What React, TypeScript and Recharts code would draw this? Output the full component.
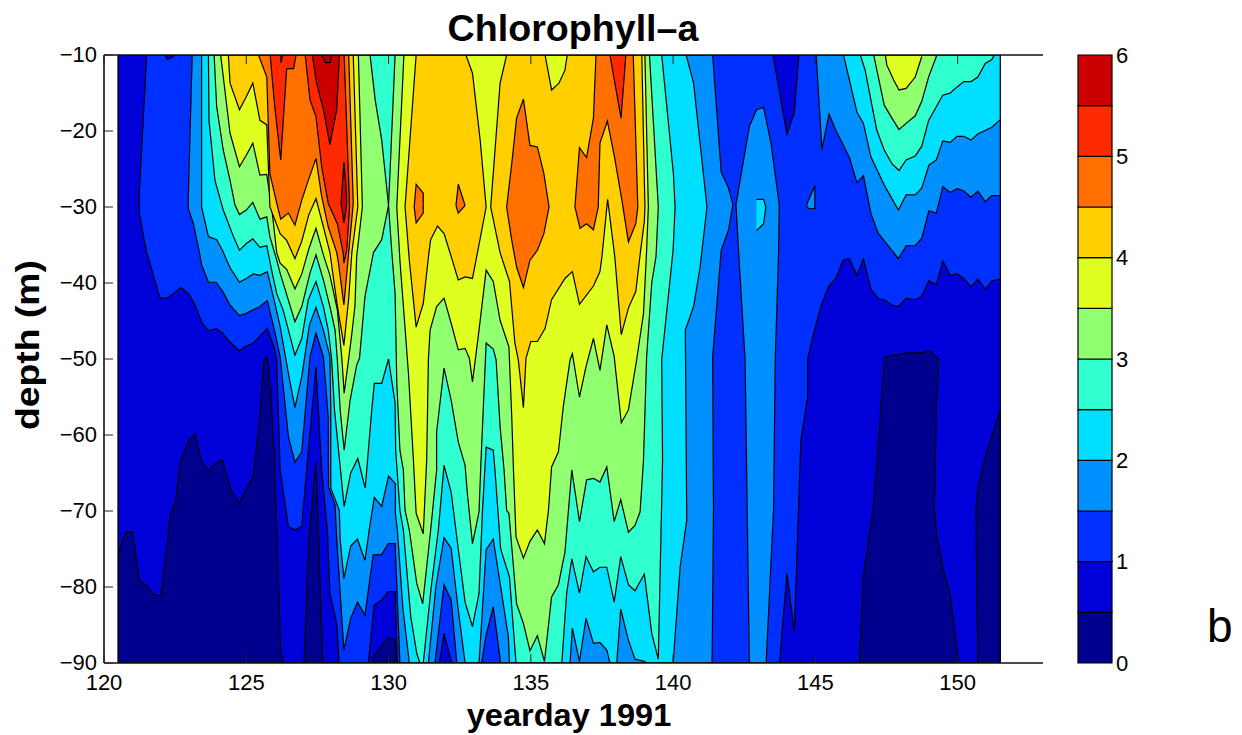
import React from 'react';
import { ComposedChart, BarChart, Area, Bar, XAxis, YAxis } from 'recharts';

const FONT = '"Liberation Sans", Arial, sans-serif';
const dayTicks = [120, 125, 130, 135, 140, 145, 150];
const depthTicks = [-10, -20, -30, -40, -50, -60, -70, -80, -90];
const barTicks = [0, 1, 2, 3, 4, 5, 6];
const bandColors = ['#00008f', '#0000d8', '#0030ff', '#0090ff', '#00dfff', '#30ffcf', '#90ff70', '#dfff20', '#ffcf00', '#ff7000', '#ff2a00', '#cc0000'];
const bandStep = [0.5];

type P = number[];
// Contour traces: [yearday, depth], the region hangs from the depth -10 line unless stated.
const frameTrace: P[] = [[120.5,-10],[120.5,-90],[151.5,-90],[151.5,-10]];
const L05: P[] = [[120.5,-75.7],[120.75,-72.8],[121,-72.8],[121.25,-79.2],[121.5,-79.8],[121.75,-81],[122,-81.2],[122.25,-73.4],[122.32,-70.5],[122.5,-69],[122.7,-63.3],[122.97,-60.7],[123.2,-59.9],[123.44,-63.6],[123.67,-64.7],[123.94,-63.7],[124.17,-63.3],[124.43,-67],[124.75,-69],[125,-67.2],[125.25,-65.3],[125.48,-57.6],[125.62,-50],[125.74,-49.8],[125.86,-54],[125.99,-63.3],[126.21,-88.5],[126.3,-90],[127.03,-90],[127.2,-74],[127.45,-63.5],[127.69,-90],[129.43,-90],[129.49,-89],[129.99,-86.7],[130.23,-86.9],[130.26,-90],[146.55,-90],[146.69,-78.6],[147.02,-69.9],[147.16,-64.2],[147.28,-57.6],[147.43,-49.8],[147.69,-49.5],[147.92,-49.5],[148.19,-49.2],[148.74,-49.2],[148.99,-48.9],[149.33,-50],[149.25,-56.7],[149.18,-69.9],[149.27,-73.4],[149.5,-77.8],[149.74,-81],[150.03,-90],[150.71,-90],[150.64,-69.9],[150.71,-67],[150.97,-62.9],[151.5,-56.7]];
const L10: P[] = [[121.5,-10],[121.24,-28.2],[121.24,-30.8],[121.48,-35.7],[121.97,-42],[122.2,-42],[122.44,-41.4],[122.7,-40.6],[122.97,-41.4],[123.2,-42.9],[123.44,-45.2],[123.67,-46.3],[123.94,-46],[124.17,-46.6],[124.43,-47.8],[124.76,-48.9],[125,-48.3],[125.25,-47.9],[125.48,-47],[125.74,-46],[125.99,-48.6],[126.07,-50.1],[126.19,-64.6],[126.48,-72],[126.71,-72.5],[126.95,-72],[127.12,-64.6],[127.45,-51],[127.65,-64.6],[127.85,-72.5],[127.94,-80.8],[128.18,-84.8],[128.26,-90],[129.29,-90],[129.49,-82.4],[129.76,-81.7],[129.99,-80.6],[130.23,-80.6],[130.31,-90],[131.79,-90],[131.95,-86.1],[132.22,-90],[143.74,-90],[144,-78.2],[144.26,-85.8],[144.49,-60.7],[144.73,-55],[144.73,-50],[144.94,-46.6],[145.21,-42.9],[145.46,-40.5],[145.72,-39.4],[145.97,-37],[146.2,-36.8],[146.46,-39],[146.69,-36.8],[146.95,-40.8],[147.2,-42],[147.46,-42.3],[147.69,-42.9],[147.92,-43.1],[148.19,-42],[148.51,-42.2],[148.74,-41.7],[148.99,-39.7],[149.25,-40.2],[149.48,-37.1],[149.74,-39],[149.98,-38.8],[150.22,-39.4],[150.47,-40.5],[150.71,-39.5],[150.97,-40.8],[151.2,-39.7],[151.5,-39.5]];
const L10TongueA: P[] = [[122.14,-10],[122.23,-10.6],[122.46,-10.2]];
const L10TongueB: P[] = [[143.51,-10],[144,-20.4],[144.26,-17.6],[144.42,-10]];
const L15A: P[] = [[123.1,-10],[122.96,-29.1],[122.96,-30.2],[123.14,-32.2],[123.34,-35.7],[123.43,-37.6],[123.67,-39.9],[123.94,-39.9],[124.17,-41.1],[124.43,-42.9],[124.76,-44.3],[125,-44],[125.25,-43.5],[125.48,-43.1],[125.74,-42.3],[125.99,-46.2],[126.19,-49.7],[126.42,-58],[126.48,-60.2],[126.71,-63.6],[126.95,-62.2],[127.24,-49.7],[127.45,-46.6],[127.71,-49.7],[127.88,-57.6],[127.89,-66.8],[128.12,-69.2],[128.18,-73.8],[128.27,-79],[128.43,-88.3],[128.67,-84.1],[128.91,-82],[129.17,-83.7],[129.46,-75.8],[129.76,-75.7],[129.99,-74.3],[130.23,-74.3],[130.4,-90],[131.63,-90],[131.95,-79.7],[132.2,-81.7],[132.4,-90],[133.27,-90],[133.43,-86.3],[133.68,-82.6],[133.94,-90],[141.37,-90],[141.42,-70],[141.39,-49.7],[141.69,-35.7],[141.95,-33],[142.1,-29.7],[141.95,-27.5],[141.69,-25.4],[141.39,-10]];
const L15Blob: P[] = [[142.68,-90],[142.53,-50],[142.3,-35.7],[142.21,-29.7],[142.68,-19.4],[142.93,-17.2],[143.18,-16.9],[143.44,-21.6],[143.73,-29.7],[143.71,-35.7],[143.59,-50],[143.53,-69.9],[143.27,-90]];
const L15B: P[] = [[145.03,-10],[145.23,-22.4],[145.48,-17.8],[145.72,-19.9],[146.2,-23.5],[146.46,-26.8],[146.69,-25.9],[146.95,-30.8],[147.2,-33.4],[147.69,-35.7],[147.92,-36.8],[148.19,-35.1],[148.51,-35.1],[148.74,-34.1],[148.99,-30.5],[149.25,-30.8],[149.48,-27.3],[149.74,-28.1],[149.98,-27.6],[150.22,-27.9],[150.47,-28.7],[150.71,-27.9],[150.97,-29.3],[151.2,-28.5],[151.5,-28.5]];
const L20A: P[] = [[123.43,-10],[123.43,-30],[123.67,-33.9],[123.96,-34.3],[124.16,-35.7],[124.43,-38],[124.76,-39.9],[125,-39.4],[125.25,-38.8],[125.48,-39],[125.74,-38.5],[125.95,-41.8],[126.19,-45.7],[126.48,-51.9],[126.71,-56.4],[126.95,-52.3],[127.22,-45.5],[127.45,-43.2],[127.71,-46.2],[127.94,-49.7],[127.97,-56.7],[127.97,-67],[128.27,-69.9],[128.3,-73.8],[128.43,-78.9],[128.67,-74.6],[128.91,-73.7],[129.17,-76.5],[129.32,-72.5],[129.5,-68.2],[129.76,-69.4],[130,-65.4],[130.24,-66.4],[130.24,-70.3],[130.31,-72.5],[130.5,-82.6],[130.73,-90],[131.4,-90],[131.66,-80],[131.95,-73.5],[132.2,-74.9],[132.45,-83],[132.69,-90],[133.18,-90],[133.43,-75.1],[133.68,-73.7],[134.21,-86.5],[134.25,-90],[136.38,-90],[136.46,-85.4],[136.71,-89.8],[136.94,-84.1],[137.2,-87.4],[137.43,-87.3],[137.67,-88.3],[137.78,-90],[138.02,-90],[138.16,-82.9],[138.43,-87],[138.66,-89.5],[139.01,-89.8],[139.04,-90],[140,-90],[140.25,-77.3],[140.48,-71.2],[140.43,-46.2],[140.72,-43.1],[140.95,-37.9],[141.19,-30],[140.72,-13.7],[140.46,-10]];
const L20B: P[] = [[145.99,-10],[146.46,-17.5],[146.69,-19],[146.95,-23.4],[147.42,-27.1],[147.69,-28.9],[147.92,-30.4],[148.19,-28.4],[148.51,-28.4],[148.74,-27.5],[148.99,-24.5],[149.25,-23.8],[149.48,-21.3],[149.74,-21.5],[149.98,-20.7],[150.22,-20.7],[150.47,-21.2],[150.71,-20.4],[151.2,-19.5],[151.5,-18.5]];
const L25A: P[] = [[123.67,-10],[123.69,-18.6],[123.9,-26.5],[124.19,-30.4],[124.55,-33.9],[124.76,-35.7],[125,-34.8],[125.23,-34.2],[125.48,-35.3],[125.72,-35.1],[125.89,-38.3],[126.07,-41.4],[126.3,-43.6],[126.71,-49.5],[126.95,-47.3],[127.18,-42.2],[127.45,-39.8],[127.71,-43.1],[127.88,-46.2],[128,-50],[128.1,-56.7],[128.44,-69.4],[128.67,-65],[128.92,-63.1],[129.18,-67],[129.41,-56.7],[129.5,-53.2],[129.76,-53.2],[130,-50],[130.23,-55.8],[130.25,-62],[130.4,-69.9],[130.52,-72.5],[130.78,-83.9],[130.99,-88.7],[131.1,-90],[131.22,-90],[131.5,-80],[131.75,-72.5],[131.95,-64],[132.2,-67.5],[132.45,-75],[132.69,-82],[132.95,-85.2],[133.18,-80.8],[133.3,-70],[133.43,-61.6],[133.68,-62],[133.74,-64.6],[133.94,-75],[134.25,-78.7],[134.48,-90],[136.09,-90],[136.26,-80.8],[136.44,-76.3],[136.71,-80.8],[136.94,-76],[137.2,-78],[137.43,-77.4],[137.67,-77.4],[137.93,-82],[138.16,-76],[138.43,-79.7],[138.66,-80.5],[138.99,-78.3],[139.25,-86.1],[139.48,-89.5],[139.63,-63.3],[139.6,-50.1],[140,-35.7],[140.07,-30],[140.01,-25.6],[139.6,-10]];
const L25B: P[] = [[146.58,-10],[146.75,-12],[146.93,-15.5],[147.16,-19.9],[147.42,-22.5],[147.69,-24.3],[147.94,-25.2],[148.19,-23.8],[148.51,-23.3],[148.74,-22],[148.98,-18.6],[149.25,-16.8],[149.48,-15.3],[149.74,-15],[149.98,-14.2],[150.22,-13.5],[150.47,-13.5],[150.71,-12.9],[150.97,-11.1],[151.2,-10.6],[151.29,-10]];
const L30A: P[] = [[123.87,-10],[123.96,-16.8],[124.19,-22.5],[124.43,-26.5],[124.6,-29.7],[124.76,-31],[125,-30.4],[125.23,-29.4],[125.48,-31.6],[125.72,-31.3],[125.83,-33.9],[126.07,-37],[126.19,-38.7],[126.71,-45.1],[126.95,-43.1],[127.24,-38.7],[127.45,-36.3],[127.71,-39.6],[127.94,-43.1],[128.12,-46.2],[128.2,-50.1],[128.3,-56.7],[128.44,-62],[128.65,-55.4],[128.88,-50.8],[128.98,-49.9],[129.17,-41.8],[129.47,-36],[129.76,-34.3],[130,-29.8],[129.76,-21.2],[129.53,-15.9],[129.35,-10]];
const L30B: P[] = [[130.23,-10],[130.05,-25.6],[130,-29.8],[130.11,-35.7],[130.23,-41.4],[130.29,-53.2],[130.4,-62],[130.52,-64.6],[130.58,-69.9],[130.73,-72.5],[130.99,-79.5],[131.2,-82.2],[131.48,-72.5],[131.69,-64.6],[131.69,-59.6],[131.95,-51.2],[132.2,-55.4],[132.45,-60.9],[132.69,-64],[132.77,-67.7],[132.95,-74.3],[133.18,-70.1],[133.25,-63.3],[133.43,-47.9],[133.68,-48.7],[133.78,-50.1],[133.92,-58.9],[134.06,-64.6],[134.15,-69.9],[134.23,-70.3],[134.5,-82.2],[134.74,-84.8],[134.97,-88.4],[135.23,-86.4],[135.48,-89.8],[135.73,-81.3],[135.97,-79.7],[136.2,-75.4],[136.44,-64.6],[136.71,-71.4],[136.96,-65.9],[137.2,-65.7],[137.43,-66.2],[137.67,-64.2],[137.93,-71.4],[138.16,-68.5],[138.43,-72.8],[138.66,-71.9],[138.84,-70.1],[138.96,-63.3],[139.07,-49.7],[139.25,-40],[139.4,-36.5],[139.48,-30],[139.17,-10]];
const L30C: P[] = [[147.05,-10],[147.42,-16.6],[147.69,-18.3],[147.94,-19.8],[148.19,-19],[148.51,-18],[148.74,-16.1],[148.98,-12.9],[149.27,-10]];
const L35A: P[] = [[124.1,-10],[124.43,-20.3],[124.76,-24.7],[125,-23.2],[125.23,-21.6],[125.48,-25.8],[125.72,-25.7],[125.89,-30],[126.07,-36],[126.19,-37.4],[126.42,-38.2],[126.71,-40.8],[126.95,-38.8],[127.2,-35.5],[127.45,-32.8],[127.71,-36.3],[127.94,-39],[128.2,-43.5],[128.36,-50],[128.44,-54.5],[128.58,-50.5],[128.7,-47],[128.82,-43],[128.88,-36.5],[129.08,-30],[128.94,-10]];
const L35B: P[] = [[130.54,-10],[130.29,-30],[130.4,-37],[130.7,-51.9],[130.87,-63],[130.97,-70.3],[131.22,-73],[131.34,-63.3],[131.4,-50.1],[131.46,-46.2],[131.69,-43.1],[131.95,-42],[132.2,-45.3],[132.45,-48.8],[132.69,-48.6],[132.84,-49.9],[132.95,-53],[133.18,-46.2],[133.43,-38.3],[133.68,-39.8],[133.92,-44.9],[134.23,-48.4],[134.33,-57.6],[134.39,-64.6],[134.48,-73.4],[134.74,-76.2],[134.97,-74],[135.23,-72.5],[135.48,-74.3],[135.62,-69.9],[135.73,-64.2],[135.97,-62.2],[136.14,-56.3],[136.38,-50.1],[136.46,-49.3],[136.71,-55],[136.94,-51],[137.2,-47.3],[137.43,-51.5],[137.67,-45.5],[137.93,-49.7],[138.18,-58.4],[138.43,-56.7],[138.72,-50.1],[138.96,-44],[139.07,-35.7],[139.13,-30],[139.01,-10]];
const L35C: P[] = [[147.46,-10],[147.51,-11.3],[147.75,-13.3],[147.94,-14.6],[148.19,-14.4],[148.51,-12.9],[148.74,-10.2]];
const L40A: P[] = [[124.37,-10],[124.43,-13.7],[124.76,-17.2],[125,-15.5],[125.23,-13.7],[125.48,-18.6],[125.72,-19.2],[125.83,-30],[126.19,-33.5],[126.42,-34.4],[126.71,-36.8],[126.95,-34.5],[127.2,-31],[127.45,-28.9],[127.71,-32.6],[127.94,-36],[128.2,-43],[128.43,-48.2],[128.6,-42],[128.71,-36],[128.92,-30],[128.76,-10]];
const L40B: P[] = [[130.97,-10],[130.58,-30],[130.73,-37],[130.97,-45.8],[131.22,-42.7],[131.42,-36],[131.48,-34.3],[131.72,-32.5],[131.95,-33.5],[132.2,-36.5],[132.45,-39.6],[132.69,-39.2],[132.95,-39.4],[133.1,-36.5],[133.43,-30],[133.22,-21.2],[132.95,-12.4],[132.72,-10]];
const L40C: P[] = [[134.15,-10],[133.92,-13.7],[133.59,-30],[133.92,-36],[134.25,-39.8],[134.44,-47.9],[134.56,-50.1],[134.74,-56.4],[134.83,-49.9],[135,-47.7],[135.23,-47.7],[135.5,-46],[135.73,-42.2],[136.2,-39.4],[136.46,-38.5],[136.71,-42.8],[137.2,-40.4],[137.43,-38.5],[137.5,-36.5],[137.7,-29],[137.95,-36.5],[138.18,-46.8],[138.43,-43.3],[138.69,-41.1],[138.85,-36],[138.99,-31.9],[139.01,-30],[138.9,-10]];
const L40Tongue: P[] = [[135.5,-10],[135.73,-14.6],[135.99,-13.7],[136.2,-12],[136.28,-10]];
const L45A: P[] = [[125.43,-10],[125.72,-12.9],[125.83,-25.6],[126.07,-29.5],[126.21,-31.6],[126.48,-30.8],[126.71,-32.4],[126.95,-29.1],[127.18,-26.5],[127.45,-23.6],[127.65,-28.6],[127.88,-32.6],[128.18,-36],[128.24,-37.4],[128.43,-42.9],[128.6,-36],[128.76,-29.5],[128.6,-10]];
const L45B: P[] = [[137.29,-10],[137.2,-18.3],[136.96,-23.5],[136.71,-22.2],[136.55,-30],[136.73,-32.8],[136.96,-32.2],[137.2,-33],[137.37,-30],[137.43,-21.6],[137.69,-18.7],[137.94,-23.4],[138.2,-29.1],[138.43,-34.6],[138.69,-32.2],[138.76,-30],[138.6,-10]];
const L50A: P[] = [[125.84,-10],[126,-16.8],[126.21,-23.8],[126.42,-11.8],[126.66,-11.8],[126.75,-10]];
const L50B: P[] = [[127.07,-10],[127.24,-15.9],[127.45,-18.1],[127.65,-24.7],[127.88,-29.5],[128.2,-32.2],[128.41,-36.1],[128.43,-37.4],[128.53,-35.7],[128.63,-30],[128.44,-10]];
const L50C: P[] = [[137.78,-10],[138.17,-18.3],[138.34,-10]];
const L55A: P[] = [[126.2,-10],[126.22,-11],[126.28,-10]];
const L55B: P[] = [[127.32,-10],[127.47,-13.7],[127.71,-17.2],[127.94,-21.8],[128.18,-17.2],[128.27,-10]];
const L60: P[] = [[127.65,-10],[127.78,-11],[127.95,-11],[128,-10]];
// Closed islands: [yearday, upper depth, lower depth]
const isleCyan: P[] = [[142.93,-29,-33.1],[143.18,-29,-32.2],[143.26,-30,-30]];
const isleAzure: P[] = [[144.68,-29.8,-29.8],[144.76,-29.1,-30.2],[144.98,-27.2,-30.2],[144.98,-28.5,-28.5]];
const isleOrangeA: P[] = [[130.9,-30,-30],[130.97,-27,-32.1],[131.22,-28.2,-30.8],[131.22,-29.5,-29.5]];
const isleOrangeB: P[] = [[132.37,-29.8,-29.8],[132.45,-27,-30.8],[132.69,-29.8,-29.8]];
const isleOrangeC: P[] = [[134.15,-30,-30],[134.33,-24.3,-34.4],[134.5,-18.3,-37.9],[134.74,-15.8,-40.6],[134.97,-21.9,-37],[135.23,-22.1,-35.7],[135.46,-25.6,-33.5],[135.64,-30,-30]];
const isleDark: P[] = [[128.33,-29.5,-29.5],[128.43,-24.1,-32.1],[128.5,-27,-30.5],[128.53,-29.5,-29.5]];

const hang = (p: P[], base = -10) => p.map(([day, depth]) => ({ day, span: [base, depth] }));
const isle = (p: P[]) => p.map(([day, a, b]) => ({ day, span: [a, b] }));

const layers: { rows: any[]; fill: string }[] = [
  { rows: hang(frameTrace), fill: bandColors[0] },
  { rows: hang(L05), fill: bandColors[1] },
  { rows: hang(L10), fill: bandColors[2] },
  { rows: hang(L10TongueA), fill: bandColors[1] },
  { rows: hang(L10TongueB), fill: bandColors[1] },
  { rows: hang(L15A), fill: bandColors[3] },
  { rows: hang(L15Blob, -90), fill: bandColors[3] },
  { rows: hang(L15B), fill: bandColors[3] },
  { rows: isle(isleAzure), fill: bandColors[3] },
  { rows: hang(L20A), fill: bandColors[4] },
  { rows: hang(L20B), fill: bandColors[4] },
  { rows: isle(isleCyan), fill: bandColors[4] },
  { rows: hang(L25A), fill: bandColors[5] },
  { rows: hang(L25B), fill: bandColors[5] },
  { rows: hang(L30A), fill: bandColors[6] },
  { rows: hang(L30B), fill: bandColors[6] },
  { rows: hang(L30C), fill: bandColors[6] },
  { rows: hang(L35A), fill: bandColors[7] },
  { rows: hang(L35B), fill: bandColors[7] },
  { rows: hang(L35C), fill: bandColors[7] },
  { rows: hang(L40A), fill: bandColors[8] },
  { rows: hang(L40B), fill: bandColors[8] },
  { rows: hang(L40C), fill: bandColors[8] },
  { rows: hang(L40Tongue), fill: bandColors[7] },
  { rows: hang(L45A), fill: bandColors[9] },
  { rows: hang(L45B), fill: bandColors[9] },
  { rows: isle(isleOrangeA), fill: bandColors[9] },
  { rows: isle(isleOrangeB), fill: bandColors[9] },
  { rows: isle(isleOrangeC), fill: bandColors[9] },
  { rows: hang(L50A), fill: bandColors[10] },
  { rows: hang(L50B), fill: bandColors[10] },
  { rows: hang(L50C), fill: bandColors[10] },
  { rows: hang(L55A), fill: bandColors[11] },
  { rows: hang(L55B), fill: bandColors[11] },
  { rows: isle(isleDark), fill: bandColors[11] },
  { rows: hang(L60), fill: '#a80000' },
  { rows: hang(frameTrace), fill: 'none' },
];

const barRow: Record<string, number> = {};
bandColors.forEach((_, i) => { barRow['b' + i] = bandStep[0]; });
const barData = [{ name: 'Chl', ...barRow }];

const TICK = 9;
const bottomTick = (p: any) => (
  <g>
    <line x1={p.x} x2={p.x} y1={p.y - 4} y2={p.y - 4 - TICK} stroke="#222" strokeWidth={1} />
    <text x={p.x} y={p.y + 23} textAnchor="middle" fontSize={22} fontFamily={FONT} fill="#000">{p.payload.value}</text>
  </g>
);
const topTick = (p: any) => (
  <line x1={p.x} x2={p.x} y1={p.y + 2} y2={p.y + 2 + TICK} stroke="#222" strokeWidth={1} />
);
const leftTick = (p: any) => (
  <g>
    <line x1={p.x + 7} x2={p.x + 7 + TICK} y1={p.y} y2={p.y} stroke="#222" strokeWidth={1} />
    <text x={p.x} y={p.y + 7} textAnchor="end" fontSize={22} fontFamily={FONT} fill="#000">{'\u2212' + Math.abs(p.payload.value)}</text>
  </g>
);
const rightTick = (p: any) => (
  <line x1={p.x - 2} x2={p.x - 2 - TICK} y1={p.y} y2={p.y} stroke="#222" strokeWidth={1} />
);

const Caption = ({ text, cx, cy, size, sx, rotate = 0 }: { text: string; cx: number; cy: number; size: number; sx: number; rotate?: number }) => (
  <div style={{ position: 'absolute', left: cx, top: cy, transform: `translate(-50%,-50%) rotate(${rotate}deg) scaleX(${sx})`, whiteSpace: 'nowrap', fontFamily: FONT, fontWeight: 700, fontSize: size, lineHeight: 1, color: '#000' }}>{text}</div>
);

export default function App() {
  return (
    <div style={{ position: 'absolute', left: 0, top: 0, width: 1242, height: 735, background: '#fff', overflow: 'hidden' }}>
      <ComposedChart width={1060} height={735} margin={{ top: 0, right: 17, bottom: 0, left: 0 }} style={{ position: 'absolute', left: 0, top: 0 }}>
        <XAxis dataKey="day" type="number" domain={[120, 153]} ticks={dayTicks} height={72} tickSize={0} tickMargin={4} tickLine={false}
          axisLine={{ stroke: '#111', strokeWidth: 1.6 }} tick={bottomTick} interval={0} allowDataOverflow />
        <XAxis xAxisId="top" orientation="top" dataKey="day" type="number" domain={[120, 153]} ticks={dayTicks} height={55} tickSize={0} tickMargin={2} tickLine={false}
          axisLine={{ stroke: '#111', strokeWidth: 1.6 }} tick={topTick} interval={0} allowDataOverflow />
        <YAxis type="number" domain={[-90, -10]} ticks={depthTicks} width={104} tickSize={0} tickMargin={7} tickLine={false}
          axisLine={{ stroke: '#111', strokeWidth: 1.6 }} tick={leftTick} interval={0} allowDataOverflow />
        <YAxis yAxisId="right" orientation="right" type="number" domain={[-90, -10]} ticks={depthTicks} width={0} tickSize={0} tickMargin={0} tickLine={false}
          axisLine={{ stroke: '#111', strokeWidth: 1.6 }} tick={rightTick} interval={0} allowDataOverflow />
        {layers.map((l, i) => (
          <Area key={i} data={l.rows} dataKey="span" type="linear" fill={l.fill} fillOpacity={l.fill === 'none' ? 0 : 1}
            stroke="#000" strokeWidth={1.2} dot={false} activeDot={false} isAnimationActive={false} legendType="none" />
        ))}
      </ComposedChart>
      <BarChart width={202} height={735} data={barData} barCategoryGap={0} margin={{ top: 55, right: 0, bottom: 72, left: 38 }} style={{ position: 'absolute', left: 1040, top: 0 }}>
        <XAxis dataKey="name" hide />
        <YAxis orientation="right" type="number" domain={[0, 6]} ticks={barTicks} width={130} tickLine={false} axisLine={false} tickSize={0} tickMargin={4} interval={0}
          tick={{ fontSize: 22, fontFamily: FONT, fill: '#000', textAnchor: 'start' }} />
        {bandColors.map((c, i) => (
          <Bar key={c} dataKey={'b' + i} stackId="bar" fill={c} stroke="#000" strokeWidth={1.2} isAnimationActive={false} legendType="none" />
        ))}
      </BarChart>
      <Caption text={'Chlorophyll\u2013a'} cx={572.5} cy={29} size={36} sx={1.045} />
      <Caption text="yearday 1991" cx={569} cy={715} size={31} sx={1.05} />
      <Caption text="depth (m)" cx={27} cy={345} size={33} sx={1.13} rotate={-90} />
      <div style={{ position: 'absolute', left: 1207, top: 603, fontSize: 46, lineHeight: '46px', fontFamily: FONT, color: '#000' }}>b</div>
    </div>
  );
}
